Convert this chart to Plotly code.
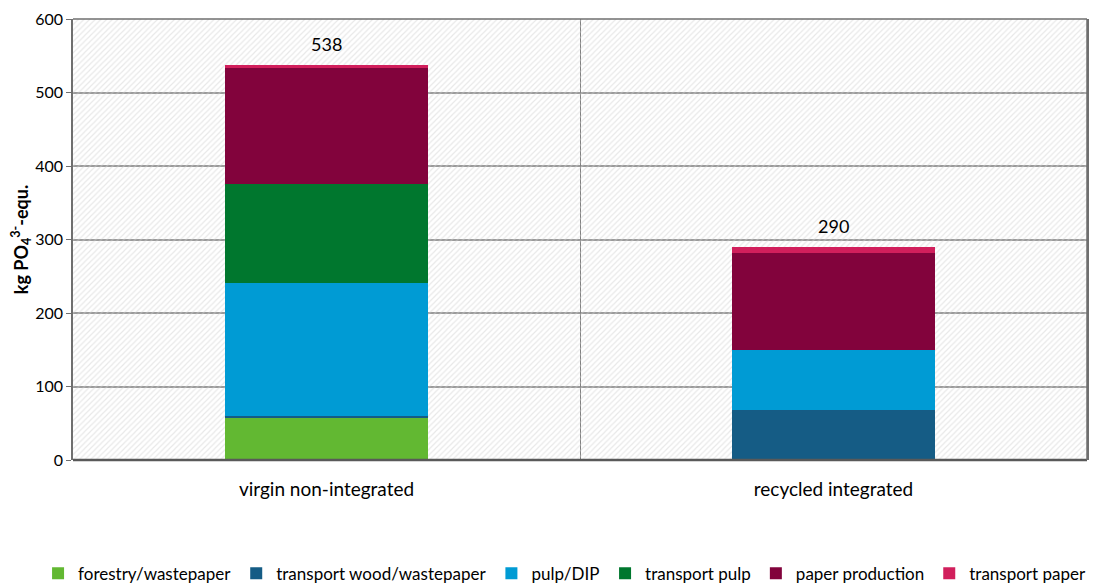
import plotly.graph_objs as go

# chart data
categories = ['virgin non-integrated', 'recycled integrated']
stages = ['forestry/wastepaper', 'transport wood/wastepaper', 'pulp/DIP',
          'transport pulp', 'paper production', 'transport paper']
colors = ['#62b832', '#155c85', '#009bd4', '#00772e', '#82033c', '#d11f5c']
values = {
    'forestry/wastepaper': [58, 0],
    'transport wood/wastepaper': [2, 68],
    'pulp/DIP': [181, 82],
    'transport pulp': [135, 0],
    'paper production': [158, 131],
    'transport paper': [4, 9],
}
y_ticks = [0, 100, 200, 300, 400, 500, 600]

font = 'Lato, Open Sans, sans-serif'

fig = go.Figure()

# hatched plot background (drawn on hidden base axis, below the bars)
fig.add_trace(go.Bar(
    x=[0.5], y=[max(y_ticks)], width=[1], xaxis='x', yaxis='y',
    marker=dict(color='rgba(0,0,0,0)', line=dict(width=0),
                pattern=dict(shape='/', size=4, solidity=0.3,
                             fgcolor='#d2d2d2', bgcolor='rgba(0,0,0,0)')),
    showlegend=False, hoverinfo='skip'
))

# stacked bars (legend split in two halves so it stays on one line)
for i, (stage, color) in enumerate(zip(stages, colors)):
    fig.add_trace(go.Bar(
        x=categories, y=values[stage], name=stage, xaxis='x2', yaxis='y',
        width=0.4, marker=dict(color=color, line=dict(width=0)),
        legend='legend' if i < 3 else 'legend2'
    ))

# totals on top of each bar
totals = [sum(values[s][i] for s in stages) for i in range(len(categories))]
for cat, tot in zip(categories, totals):
    fig.add_annotation(x=cat, y=tot, xref='x2', yref='y', text=str(tot),
                       showarrow=False, yshift=21,
                       font=dict(size=18, color='#000000', family=font))

legend_common = dict(orientation='h', xref='container', yref='container',
                     y=0.004, yanchor='bottom', font=dict(size=17),
                     traceorder='normal', itemwidth=30, tracegroupgap=0)

fig.update_layout(
    width=1116, height=586,
    margin=dict(l=65, r=37, t=11, b=134, autoexpand=False),
    barmode='stack', bargap=0.6,
    paper_bgcolor='white', plot_bgcolor='white',
    font=dict(family=font, size=16, color='#000000'),
    xaxis=dict(range=[0, 1], visible=False, fixedrange=True),
    xaxis2=dict(overlaying='x', type='category', side='bottom',
                showgrid=True, gridcolor='#7f7f7f', gridwidth=1,
                tickson='boundaries', ticks='', ticklabelstandoff=16,
                tickfont=dict(size=19), showline=False),
    yaxis=dict(range=[0, 600], tickvals=y_ticks, showgrid=True,
               gridcolor='#9a9a9a', gridwidth=1.5, zeroline=False,
               showline=True, linecolor='#6f6f6f', linewidth=1.5, mirror=True,
               ticks='outside', ticklen=5, tickcolor='#6f6f6f',
               tickfont=dict(size=16),
               title=dict(text='<b>kg PO<sub>4</sub><sup>3-</sup>-equ.</b>',
                          font=dict(size=18), standoff=10)),
    legend=dict(x=0.535, xanchor='right', **legend_common),
    legend2=dict(x=0.535, xanchor='left', **legend_common),
)

# box edges in the same grey as the axis
fig.add_shape(type='line', xref='paper', yref='paper', x0=0, x1=1, y0=0, y1=0,
              line=dict(color='#595959', width=2.5))
fig.add_shape(type='line', xref='paper', yref='paper', x0=0, x1=1, y0=1, y1=1,
              line=dict(color='#6f6f6f', width=1.5))
fig.add_shape(type='line', xref='paper', yref='paper', x0=1, x1=1, y0=0, y1=1,
              line=dict(color='#6f6f6f', width=1.5))

fig.write_html('out.html')
